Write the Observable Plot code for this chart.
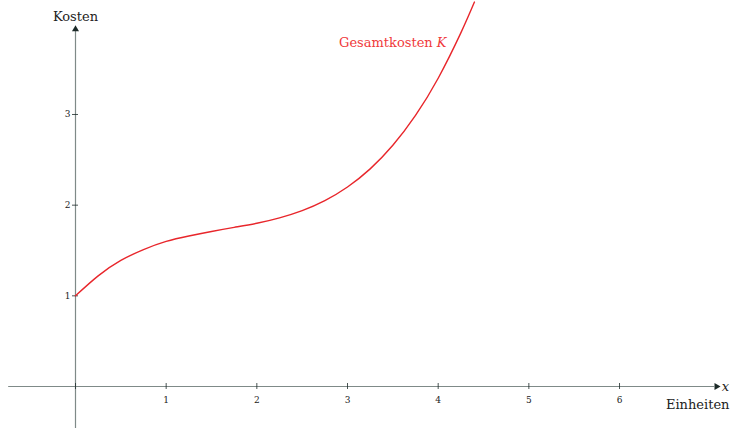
<!DOCTYPE html>
<html>
<head>
<meta charset="utf-8">
<script src="https://cdn.jsdelivr.net/npm/d3@7"></script>
<script src="https://cdn.jsdelivr.net/npm/@observablehq/plot@0.6"></script>
<style>
  html, body { margin: 0; padding: 0; background: #fff; }
  #chart { width: 730px; height: 429px; overflow: hidden; }
</style>
</head>
<body>
<div id="chart"></div>
<script>
// Values
const xValues = [0, 0.25, 0.5, 0.75, 1, 1.25, 1.5, 1.75, 2, 2.25, 2.5, 2.75, 3, 3.25, 3.5, 3.75, 4, 4.25, 4.4];
const kValues = [1, 1.22, 1.39, 1.51, 1.6, 1.66, 1.71, 1.755, 1.8, 1.86, 1.94, 2.05, 2.2, 2.4, 2.66, 2.99, 3.4, 3.9, 4.24];
const xTicks = [1, 2, 3, 4, 5, 6];
const yTicks = [1, 2, 3];
const xLabel = "Einheiten";
const yLabel = "Kosten";
const curveLabel = "Gesamtkosten";
const curveName = "K";

const curve = xValues.map((x, i) => ({x, k: kValues[i]}));

const W = 730, H = 429;
const unit = 90.67;               // pixels per unit
const x0px = 75, y0px = 386;      // origin position in pixels
const xDomain = [-x0px / unit, (W - x0px) / unit];
const yDomain = [-(H - y0px) / unit, y0px / unit];
const tk = 3 / unit;              // half tick length
const axisColor = "#7f8a88";
const red = "#e8262b";
const font = "DejaVu Serif";

const plot = Plot.plot({
  width: W,
  height: H,
  margin: 0,
  style: {background: "#fff", overflow: "hidden"},
  x: {domain: xDomain, range: [0, W], axis: null},
  y: {domain: yDomain, range: [H, 0], axis: null},
  marks: [
    // axes
    Plot.ruleY([0], {x1: xDomain[0] + 0.09, x2: 7.05, stroke: axisColor, strokeWidth: 1.2}),
    Plot.ruleX([0], {y1: yDomain[0] + 0.01, y2: 3.92, stroke: axisColor, strokeWidth: 1.2}),
    Plot.dot([{x: 7.07, y: 0}], {x: "x", y: "y", symbol: "triangle", rotate: 90, r: 2.6, fill: "#1c2a28", stroke: "none"}),
    Plot.dot([{x: 0, y: 3.94}], {x: "x", y: "y", symbol: "triangle", r: 2.6, fill: "#1c2a28", stroke: "none"}),
    // ticks
    Plot.ruleX(xTicks, {y1: -tk, y2: tk, stroke: "#1c2a28", strokeWidth: 0.8}),
    Plot.ruleY(yTicks, {x1: -tk, x2: tk, stroke: "#1c2a28", strokeWidth: 0.8}),
    Plot.ruleX([0], {y1: -tk, y2: tk, stroke: "#1c2a28", strokeWidth: 0.8}),
    Plot.text(xTicks, {x: d => d, y: 0, dy: 14, text: d => String(d), fontSize: 9, fontFamily: font, fill: "#222"}),
    Plot.text(yTicks, {x: 0, y: d => d, dx: -8, text: d => String(d), fontSize: 9, fontFamily: font, fill: "#222"}),
    // axis labels
    Plot.text([yLabel], {x: 0, y: yDomain[1], dy: 16, text: d => d, fontSize: 13, fontFamily: font, fill: "#222"}),
    Plot.text([xLabel], {x: xDomain[1], y: 0, dx: -1, dy: 18, textAnchor: "end", text: d => d, fontSize: 13, fontFamily: font, fill: "#222"}),
    Plot.text(["x"], {x: 7.07, y: 0, dx: 9, dy: 0, text: d => d, fontSize: 13, fontStyle: "italic", fontFamily: font, fill: "#222"}),
    // curve
    Plot.line(curve, {x: "x", y: "k", stroke: red, strokeWidth: 1.4, curve: "natural"}),
    Plot.text([curveLabel], {x: 3.94, y: 3.79, textAnchor: "end", text: d => d, fontSize: 13, fontFamily: font, fill: "#f0393b"}),
    Plot.text([curveName], {x: 3.94, y: 3.79, dx: 4, textAnchor: "start", text: d => d, fontSize: 13, fontStyle: "italic", fontFamily: font, fill: "#f0393b"})
  ]
});
document.getElementById("chart").appendChild(plot);
</script>
</body>
</html>
